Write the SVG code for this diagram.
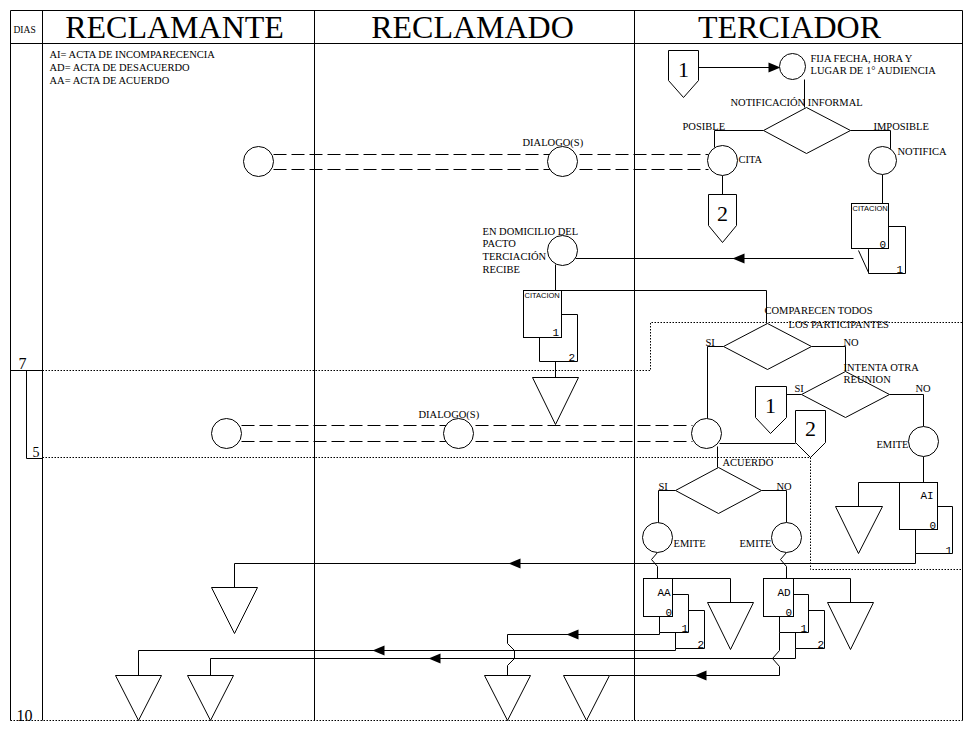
<svg xmlns="http://www.w3.org/2000/svg" width="964" height="733" viewBox="0 0 964 733">
<style>
.ln{fill:none;stroke:#000;stroke-width:1}
.dash{fill:none;stroke:#000;stroke-width:1;stroke-dasharray:13 5}
.dot{fill:none;stroke:#000;stroke-width:1;stroke-dasharray:1.5 1.5}
.sh{fill:#fff;stroke:#000;stroke-width:1}
.t{font-family:"Liberation Serif","Times New Roman",serif;font-size:10.5px;fill:#000}
.hd{font-family:"Liberation Serif","Times New Roman",serif;font-size:32px;fill:#000;text-anchor:middle}
.big{font-family:"Liberation Serif","Times New Roman",serif;font-size:22px;fill:#000;text-anchor:middle}
.cit{font-family:"Liberation Sans",Arial,sans-serif;font-size:7.5px;fill:#000}
.m{font-family:"Liberation Mono","Courier New",monospace;font-size:11px;fill:#000}
.ax{font-family:"Liberation Serif","Times New Roman",serif;font-size:16px;fill:#000}
</style>
<defs>
<path id="al" d="M0,0 L12,-5 L12,5 Z" fill="#000"/>
<path id="ar" d="M0,0 L-12,-5 L-12,5 Z" fill="#000"/>
</defs>
<rect x="0" y="0" width="964" height="733" fill="#fff"/>
<g transform="translate(0.5,0.5)">
<g id="frame">
<path class="ln" d="M10,10 H962 M10,43 H962 M10,10 V720 M42,10 V720 M314,10 V720 M634,10 V720 M962,10 V720"/>
<path class="ln" d="M10,370 H42 M26,370 V458 H42"/>
<path class="dot" d="M42,370 H650 V322 H962"/>
<path class="dot" d="M42,457 H810 V569 H962"/>
<path class="dot" d="M10,720 H962"/>
<text x="13" y="32" class="t" style="font-size:9.5px">DIAS</text>
<text x="174" y="37" class="hd">RECLAMANTE</text>
<text x="472" y="37" class="hd">RECLAMADO</text>
<text x="789" y="37" class="hd">TERCIADOR</text>
<text x="18" y="368" class="ax">7</text>
<text x="32" y="456" class="ax" style="font-size:14px">5</text>
<text x="16" y="720" class="ax">10</text>
</g>
<g id="legend">
<text x="49" y="57" class="t">AI= ACTA DE INCOMPARECENCIA</text>
<text x="49" y="70" class="t">AD= ACTA DE DESACUERDO</text>
<text x="49" y="83" class="t">AA= ACTA DE ACUERDO</text>
</g>
<g id="connectors">
<path class="dash" d="M273,154 H708 M273,169 H708"/>
<path class="dash" d="M241,425 H692 M241,441 H692"/>
<path class="ln" d="M698,67 H770"/>
<path class="ln" d="M804,79 V107"/>
<path class="ln" d="M763,130 H714 V147"/>
<path class="ln" d="M850,130 H890 V149"/>
<path class="ln" d="M722,175 V194"/>
<path class="ln" d="M882,174 V203"/>
<path class="ln" d="M853,258 H575"/>
<path class="ln" d="M858,250 L868,272"/>
<path class="ln" d="M555,264 V290"/>
<path class="ln" d="M561,290 H766 V323"/>
<path class="ln" d="M555,361 V377"/>
<path class="ln" d="M723,346 H707 V418"/>
<path class="ln" d="M811,346 H845 V371"/>
<path class="ln" d="M801,394 H786"/>
<path class="ln" d="M889,394 H923 V426"/>
<path class="ln" d="M719,443 H795"/>
<path class="ln" d="M717,446 V467"/>
<path class="ln" d="M675,490 H658 V522"/>
<path class="ln" d="M761,490 H786 V522"/>
<path class="ln" d="M923,456 V482"/>
<path class="ln" d="M899,482 H858 V506"/>
<path class="ln" d="M915,553 V563 H234 V587"/>
<path class="ln" d="M657,552 L651,559 L657,566 V578"/>
<path class="ln" d="M786,552 L780,559 L786,566 V578"/>
<path class="ln" d="M672,578 H730 V602"/>
<path class="ln" d="M793,578 H850 V602"/>
<path class="ln" d="M659,632 V634 H507 V643 L514,650 V658 L507,665 V675"/>
<path class="ln" d="M675,648 V650 H138 V675"/>
<path class="ln" d="M795,648 V658 H210 V675"/>
<path class="ln" d="M779,632 V650 L772,658 L779,666 V675 H609"/>
<use href="#ar" x="780" y="67"/>
<use href="#al" x="732" y="258"/>
<use href="#al" x="508" y="563"/>
<use href="#al" x="566" y="634"/>
<use href="#al" x="372" y="650"/>
<use href="#al" x="428" y="658"/>
<use href="#al" x="694" y="675"/>
</g>
<g id="n-off1"><path class="sh" d="M668,50 H698 V80 L683,97 L668,80 Z"/><text x="683" y="76" class="big">1</text></g>
<g id="n-fija"><circle class="sh" cx="792" cy="66" r="13"/><text x="810" y="61" class="t">FIJA FECHA, HORA Y</text><text x="810" y="73" class="t">LUGAR DE 1° AUDIENCIA</text></g>
<g id="n-notif-informal"><path class="sh" d="M806,107 L850,130 L806,153 L763,130 Z"/><text x="730" y="105" class="t">NOTIFICACIÓN INFORMAL</text><text x="682" y="129" class="t">POSIBLE</text><text x="873" y="129" class="t">IMPOSIBLE</text></g>
<g id="n-cita"><circle class="sh" cx="722" cy="160" r="15"/><text x="738" y="162" class="t">CITA</text></g>
<g id="n-off2a"><path class="sh" d="M708,194 H736 V225 L722,242 L708,225 Z"/><text x="722" y="220" class="big">2</text></g>
<g id="n-notifica"><circle class="sh" cx="882" cy="160" r="14"/><text x="897" y="154" class="t">NOTIFICA</text></g>
<g id="n-doc-citacion-t"><path class="ln" d="M868,248 V273 H905 V226 H888"/><rect class="sh" x="851" y="203" width="37" height="45"/><text x="852" y="210" class="cit">CITACION</text><text x="879" y="247" class="m">0</text><text x="896" y="272" class="m">1</text></g>
<g id="n-rc-dialog1"><circle class="sh" cx="258" cy="161" r="15"/></g>
<g id="n-rd-dialog1"><circle class="sh" cx="562" cy="161" r="15"/><text x="522" y="145" class="t">DIALOGO(S)</text></g>
<g id="n-domicilio"><circle class="sh" cx="562" cy="250" r="15"/><text x="482" y="234" class="t">EN DOMICILIO DEL</text><text x="482" y="246" class="t">PACTO</text><text x="482" y="259" class="t">TERCIACIÓN</text><text x="482" y="272" class="t">RECIBE</text></g>
<g id="n-doc-citacion-r"><path class="ln" d="M539,337 V361 H577 V314 H561"/><rect class="sh" x="523" y="290" width="38" height="47"/><text x="524" y="297" class="cit">CITACION</text><text x="552" y="335" class="m">1</text><text x="568" y="360" class="m">2</text></g>
<g id="n-tri-r1"><path class="sh" d="M532,377 H578 L555,424 Z"/></g>
<g id="n-comparecen"><path class="sh" d="M767,323 L811,346 L767,369 L723,346 Z"/><text x="764" y="313" class="t">COMPARECEN TODOS</text><text x="788" y="327" class="t">LOS PARTICIPANTES</text><text x="705" y="345" class="t">SI</text><text x="843" y="345" class="t">NO</text></g>
<g id="n-intenta"><path class="sh" d="M845,371 L889,394 L845,417 L801,394 Z"/><text x="843" y="370" class="t">INTENTA OTRA</text><text x="843" y="382" class="t">REUNION</text><text x="794" y="391" class="t">SI</text><text x="915" y="391" class="t">NO</text></g>
<g id="n-off1b"><path class="sh" d="M755,386 H786 V417 L770,433 L755,417 Z"/><text x="770" y="412" class="big">1</text></g>
<g id="n-off2b"><path class="sh" d="M795,410 H825 V442 L810,457 L795,442 Z"/><text x="810" y="435" class="big">2</text></g>
<g id="n-rc-dialog2"><circle class="sh" cx="226" cy="433" r="15"/></g>
<g id="n-rd-dialog2"><circle class="sh" cx="458" cy="433" r="15"/><text x="418" y="417" class="t">DIALOGO(S)</text></g>
<g id="n-tc-dialog2"><circle class="sh" cx="706" cy="433" r="15"/></g>
<g id="n-emite-ai"><circle class="sh" cx="923" cy="441" r="15"/><text x="908" y="447" class="t" text-anchor="end">EMITE</text></g>
<g id="n-acuerdo"><path class="sh" d="M718,467 L761,490 L718,513 L675,490 Z"/><text x="722" y="465" class="t">ACUERDO</text><text x="658" y="489" class="t">SI</text><text x="776" y="489" class="t">NO</text></g>
<g id="n-emite-aa"><circle class="sh" cx="657" cy="537" r="15"/><text x="673" y="546" class="t">EMITE</text></g>
<g id="n-emite-ad"><circle class="sh" cx="786" cy="537" r="15"/><text x="771" y="546" class="t" text-anchor="end">EMITE</text></g>
<g id="n-doc-ai"><path class="ln" d="M915,529 V553 H952 V506 H937"/><rect class="sh" x="899" y="482" width="38" height="47"/><text x="920" y="498" class="m">AI</text><text x="929" y="528" class="m">0</text><text x="945" y="553" class="m">1</text></g>
<g id="n-tri-ai"><path class="sh" d="M835,506 H882 L858,553 Z"/></g>
<g id="n-doc-aa"><path class="ln" d="M675,632 V648 H704 V610 H688"/><path class="ln" d="M659,616 V632 H688 V594 H672"/><rect class="sh" x="643" y="578" width="29" height="38"/><text x="657" y="595" class="m">AA</text><text x="665" y="615" class="m">0</text><text x="681" y="631" class="m">1</text><text x="697" y="647" class="m">2</text></g>
<g id="n-doc-ad"><path class="ln" d="M795,632 V648 H824 V610 H808"/><path class="ln" d="M779,616 V632 H808 V594 H793"/><rect class="sh" x="763" y="578" width="30" height="38"/><text x="777" y="595" class="m">AD</text><text x="785" y="615" class="m">0</text><text x="800" y="631" class="m">1</text><text x="817" y="647" class="m">2</text></g>
<g id="n-tri-aa"><path class="sh" d="M707,602 H753 L730,649 Z"/></g>
<g id="n-tri-ad"><path class="sh" d="M827,602 H873 L850,649 Z"/></g>
<g id="n-tri-rc1"><path class="sh" d="M211,587 H257 L234,633 Z"/></g>
<g id="n-tri-b1"><path class="sh" d="M115,675 H161 L138,720 Z"/></g>
<g id="n-tri-b2"><path class="sh" d="M187,675 H233 L210,720 Z"/></g>
<g id="n-tri-b3"><path class="sh" d="M484,675 H530 L507,720 Z"/></g>
<g id="n-tri-b4"><path class="sh" d="M563,675 H609 L586,720 Z"/></g>
</g>
</svg>
